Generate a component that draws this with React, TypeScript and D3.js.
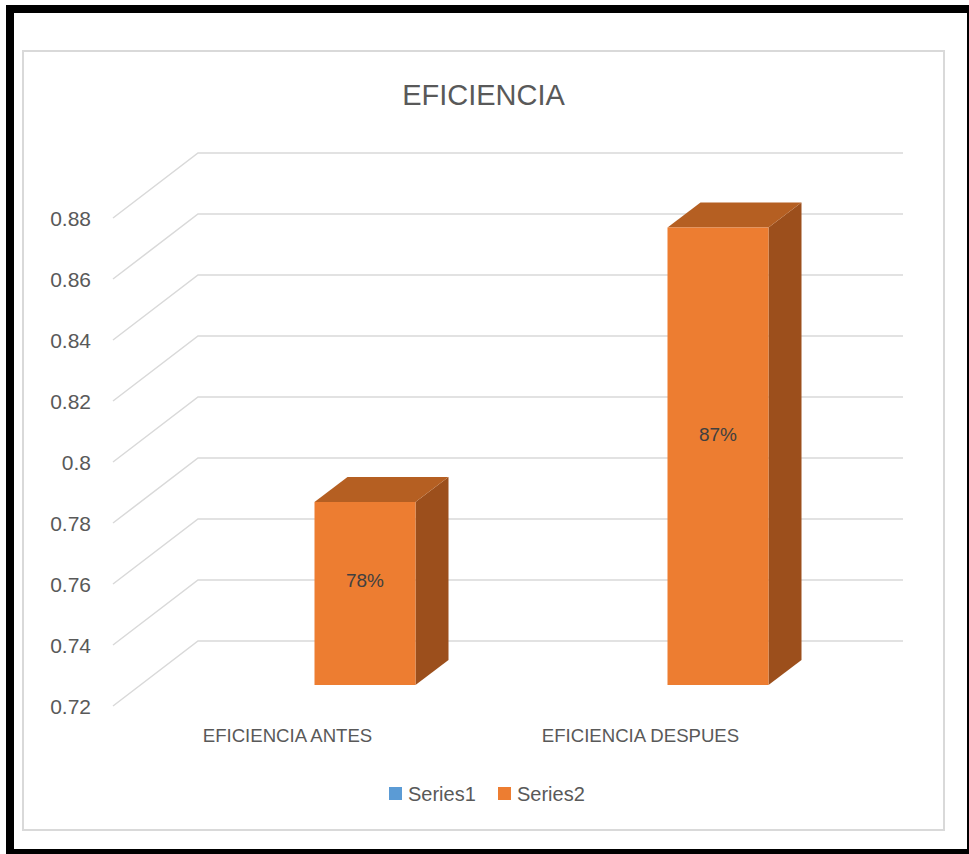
import React from "react";
import * as d3 from "d3";

const title = "EFICIENCIA";
const categories = ["EFICIENCIA ANTES", "EFICIENCIA DESPUES"];
const seriesNames = ["Series1", "Series2"];
const series1Values: (number | null)[] = [null, null];
const series2Values = [0.78, 0.87];
const yTicks = [0.72, 0.74, 0.76, 0.78, 0.8, 0.82, 0.84, 0.86, 0.88];
const yTickLabels = ["0.72", "0.74", "0.76", "0.78", "0.8", "0.82", "0.84", "0.86", "0.88"];
const seriesColors = ["#5B9BD5", "#ED7D31"];

const W = 969;
const H = 854;
const FONT = "'Liberation Sans', Arial, sans-serif";

export default function App() {
  const y = d3.scaleLinear().domain([0.72, 0.88]).range([706, 218]);
  const x = d3.scaleBand<string>().domain(categories).range([111, 817]);
  const DX = 85;
  const DY = -65;
  const gridRight = 903;
  const axisX = 113;

  // bar geometry (3D oblique)
  const barW = 101;
  const barFrontShift = 27;
  const barFloorDrop = 21;
  const bDX = 33;
  const bDY = -25;

  return (
    <svg
      width={W}
      height={H}
      style={{ position: "absolute", left: 0, top: 0, background: "#fff" }}
    >
      <rect x={0} y={0} width={W} height={H} fill="#fff" />
      <rect x={10} y={9} width={961} height={844} fill="none" stroke="#000" strokeWidth={8} />
      <rect x={23} y={51} width={921} height={779} fill="none" stroke="#d9d9d9" strokeWidth={2} />

      <text
        x={483.5}
        y={105}
        textAnchor="middle"
        fontFamily={FONT}
        fontSize={29}
        fill="#595959"
      >
        {title}
      </text>

      {yTicks.map((t, i) => {
        const yy = y(t);
        const path = d3.path();
        path.moveTo(axisX, yy);
        path.lineTo(axisX + DX, yy + DY);
        path.lineTo(gridRight, yy + DY);
        return (
          <g key={"g" + i}>
            <path d={path.toString()} fill="none" stroke="#d9d9d9" strokeWidth={1.5} />
            <text
              x={91}
              y={yy}
              dominantBaseline="central"
              textAnchor="end"
              fontFamily={FONT}
              fontSize={21}
              fill="#595959"
            >
              {yTickLabels[i]}
            </text>
          </g>
        );
      })}

      {series1Values.map((v, i) => (v == null ? null : null))}

      {categories.map((c, i) => {
        const center = (x(c) as number) + x.bandwidth() / 2;
        const v = series2Values[i];
        const left = center + barFrontShift;
        const right = left + barW;
        const bottom = y(0.72) - barFloorDrop;
        const top = y(v) - barFloorDrop;
        const front = `M${left},${top}L${right},${top}L${right},${bottom}L${left},${bottom}Z`;
        const topFace = `M${left},${top}L${left + bDX},${top + bDY}L${right + bDX},${top + bDY}L${right},${top}Z`;
        const side = `M${right},${top}L${right + bDX},${top + bDY}L${right + bDX},${bottom + bDY}L${right},${bottom}Z`;
        const labelY = 0.53 * top + 0.47 * bottom - 8;
        return (
          <g key={"b" + i}>
            <path d={side} fill="#9C4F1C" />
            <path d={topFace} fill="#B55F22" />
            <path d={front} fill={seriesColors[1]} />
            <text
              x={(left + right) / 2}
              y={labelY}
              dominantBaseline="central"
              textAnchor="middle"
              fontFamily={FONT}
              fontSize={19}
              fill="#404040"
            >
              {Math.round(v * 100) + "%"}
            </text>
            <text
              x={center}
              y={735}
              dominantBaseline="central"
              textAnchor="middle"
              fontFamily={FONT}
              fontSize={18.6}
              fill="#595959"
            >
              {c}
            </text>
          </g>
        );
      })}

      {seriesNames.map((s, i) => {
        const lx = [389, 498][i];
        return (
          <g key={"l" + i}>
            <rect x={lx} y={787} width={13} height={13} fill={seriesColors[i]} />
            <text
              x={lx + 19}
              y={793.5}
              dominantBaseline="central"
              fontFamily={FONT}
              fontSize={20}
              fill="#595959"
            >
              {s}
            </text>
          </g>
        );
      })}
    </svg>
  );
}
